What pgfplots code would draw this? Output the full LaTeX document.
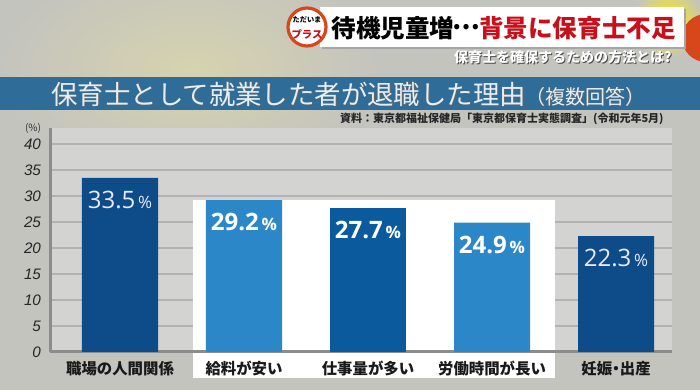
\documentclass[border=0pt]{standalone}
\usepackage{pgfplots}
\pgfplotsset{compat=1.18}
\usepackage{fontspec}
\setmainfont{Noto Sans CJK JP}
\newfontfamily\numfont{Liberation Sans}
\newfontfamily\valfont{Open Sans}
\definecolor{bgc}{HTML}{C4C4BE}
\definecolor{yel}{HTML}{D6D3AE}
\definecolor{plotbg}{HTML}{D3D3D1}
\definecolor{gridc}{HTML}{B2B2B2}
\definecolor{axisc}{HTML}{8C8C8C}
\definecolor{darkbar}{HTML}{0D4C89}
\definecolor{midbar}{HTML}{0B5A9E}
\definecolor{lightbar}{HTML}{2B87C8}
\definecolor{bandc}{HTML}{2F6D98}
\definecolor{titlec}{HTML}{E6EEF3}
\definecolor{redc}{HTML}{C8101C}
\definecolor{logoc}{HTML}{D8461C}
\pgfdeclarelayer{deco}
\pgfdeclarelayer{axis background}
\pgfdeclarelayer{axis grid}
\pgfdeclarelayer{axis ticks}
\pgfdeclarelayer{axis lines}
\pgfdeclarelayer{axis tick labels}
\pgfdeclarelayer{pre main}
\pgfdeclarelayer{axis descriptions}
\pgfdeclarelayer{axis foreground}
\pgfplotsset{
  layers/mylayers/.define layer set={deco,axis background,axis grid,axis ticks,axis lines,axis tick labels,pre main,main,axis descriptions,axis foreground}{
    grid style={/pgfplots/on layer=axis grid},
    tick style={/pgfplots/on layer=axis ticks},
    axis line style={/pgfplots/on layer=axis lines},
    label style={/pgfplots/on layer=axis descriptions},
    legend style={/pgfplots/on layer=axis descriptions},
    title style={/pgfplots/on layer=axis descriptions},
    ticklabel style={/pgfplots/on layer=axis tick labels},
    axis background@ style={/pgfplots/on layer=axis background},
  },
}
\pgfsetlayers{deco,axis background,axis grid,axis ticks,axis lines,axis tick labels,pre main,main,axis descriptions,axis foreground}
\begin{document}
\begin{tikzpicture}[x=0.5pt,y=0.5pt]
\begin{pgfonlayer}{deco}
\fill[bgc] (0,0) rectangle (700,390);
\begin{scope}
\clip (0,0) rectangle (700,390);
\shade[inner color=yel, outer color=bgc] (190,320) ellipse (190 and 110);
\shade[inner color=yellow!85!orange, outer color=bgc] (668,368) circle (36);
\end{scope}
\end{pgfonlayer}
\fill[logoc, overlay] (706,352) circle (24);
% headline box
\fill[black!35] (322,341) rectangle (686,381);
\fill[white] (320,343) rectangle (684,383);
\node[anchor=west, inner sep=0, font=\fontsize{12.3}{13}\selectfont\bfseries] at (331,362) {待機児童増\makebox[1em]{\raisebox{0.32em}{…}}\textcolor{redc}{背景に保育士不足}};
% logo
\fill[white] (307,363) circle (20);
\draw[logoc, line width=1.6pt] (307,363) circle (19);
\node[inner sep=0, font=\fontsize{3.6}{4}\selectfont\bfseries] at (307,370) {ただいま};
\node[inner sep=0, font=\fontsize{5.2}{6}\selectfont\bfseries, text=redc] at (307,356) {プラス};
% subtitle
\node[anchor=east, inner sep=0, font=\fontsize{7}{8}\selectfont\bfseries, text=black!70] at (673,332) {保育士を確保するための方法とは?};
\node[anchor=east, inner sep=0, font=\fontsize{7}{8}\selectfont\bfseries, text=white] at (672,333) {保育士を確保するための方法とは?};
% title band
\fill[bandc] (0,280) rectangle (700,313);
\node[anchor=west, inner sep=0, font=\fontsize{13.2}{14}\selectfont, text=black!60] at (51.8,295.2) {保育士として就業した者が退職した理由\fontsize{10}{11}\selectfont（複数回答）};
\node[anchor=west, inner sep=0, font=\fontsize{13.2}{14}\selectfont, text=titlec] at (51,296) {保育士として就業した者が退職した理由\fontsize{10}{11}\selectfont（複数回答）};
% source
\node[anchor=east, inner sep=0, font=\fontsize{5.5}{6}\selectfont\bfseries, text=black!85] at (664,271) {資料：東京都福祉保健局「東京都保育士実態調査」(令和元年5月)};
\node[inner sep=0, font=\fontsize{5}{6}\selectfont, text=black!80] at (33,262) {(\%)};
\begin{axis}[
  set layers=mylayers,
  at={(25pt,19pt)}, anchor=south west,
  scale only axis, width=311pt, height=111.8pt,
  xmin=-0.5645, xmax=4.4516, ymin=0, ymax=43,
  clip=false,
  axis background/.style={fill=plotbg},
  axis y line*=left, axis x line*=bottom,
  axis line style={draw=axisc, line width=1.5pt, -},
  ytick={0,5,...,40}, xtick={0,1,2,3,4},
  xticklabels={職場の人間関係, 給料が安い, 仕事量が多い, 労働時間が長い, 妊娠\kern-0.25em・\kern-0.25em 出産},
  major tick length=0,
  ymajorgrids, grid style={draw=gridc, line width=0.7pt},
  /pgf/number format/assume math mode=true,
  yticklabel style={font=\numfont\itshape\fontsize{7.6}{8}\selectfont, text=black!85, xshift=-1pt},
  xticklabel style={font=\fontsize{7.7}{8}\selectfont\bfseries, text=black!90, yshift=-1pt},
  ybar, bar shift=0pt, bar width=0.613,
  nodes near coords={\pgfmathprintnumber[fixed,precision=1,fixed zerofill]{\pgfplotspointmeta}\fontsize{8.5}{9}\selectfont\,\%},
  every node near coord/.append style={anchor=north, inner sep=0, yshift=-6.5pt},
]
\pgfplotsextra{%
\begin{pgfonlayer}{axis ticks}
\fill[white] (axis cs:0.589,-5) rectangle (axis cs:3.508,29.2);
\end{pgfonlayer}}
\addplot[fill=darkbar, draw=none, nodes near coords style={font=\valfont\fontsize{12}{13}\selectfont, text=blue!8!white}] coordinates {(0,33.5) (4,22.3)};
\addplot[fill=midbar, draw=none, nodes near coords style={font=\valfont\bfseries\fontsize{12}{13}\selectfont, text=white}] coordinates {(2,27.7)};
\addplot[fill=lightbar, draw=none, nodes near coords style={font=\valfont\bfseries\fontsize{12}{13}\selectfont, text=white}] coordinates {(1,29.2) (3,24.9)};
\end{axis}
\end{tikzpicture}
\end{document}
